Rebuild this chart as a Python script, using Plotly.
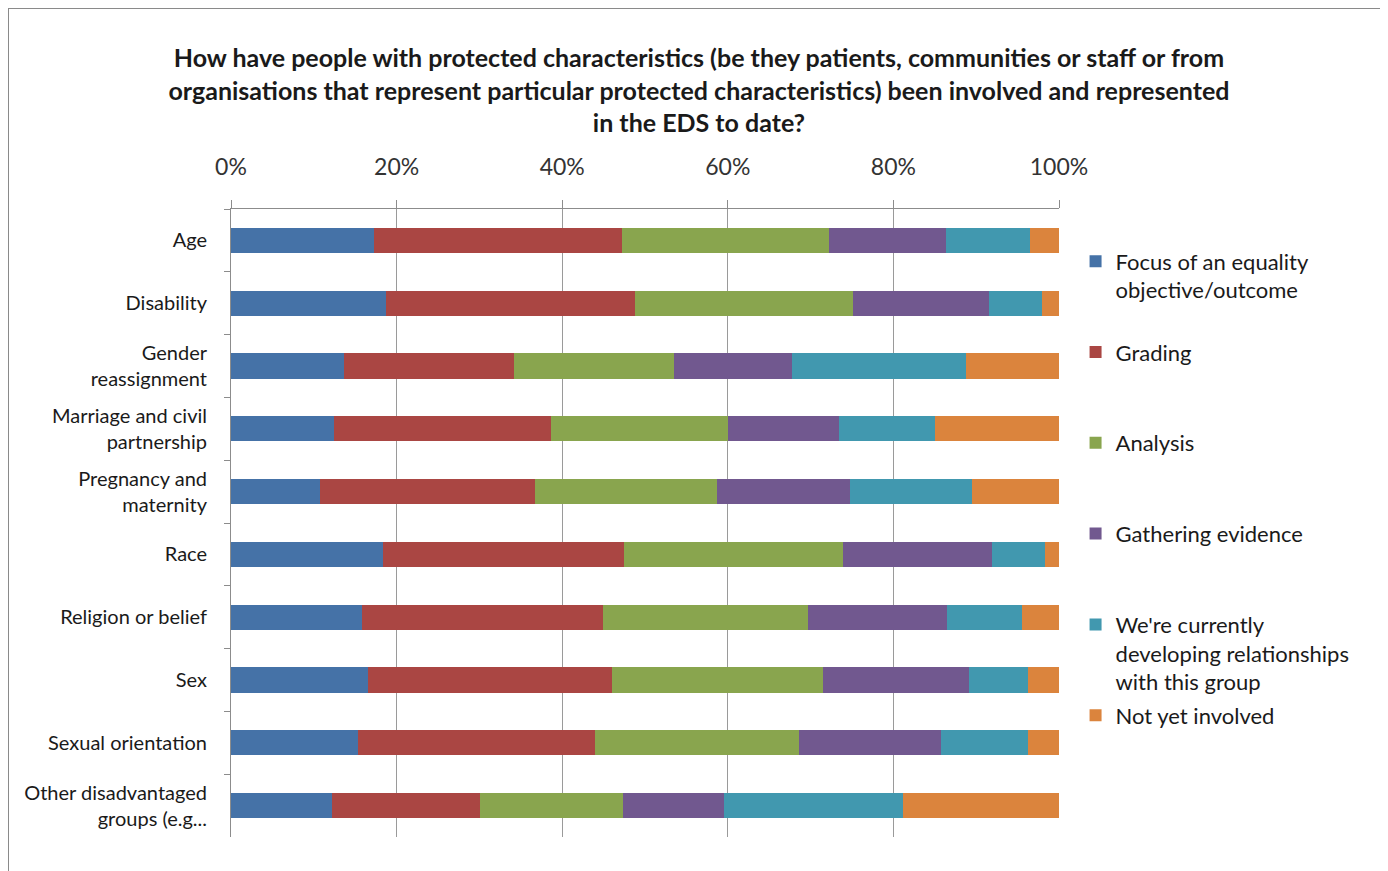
import plotly.graph_objects as go

categories = [
    "Age",
    "Disability",
    "Gender<br>reassignment",
    "Marriage and civil<br>partnership",
    "Pregnancy and<br>maternity",
    "Race",
    "Religion or belief",
    "Sex",
    "Sexual orientation",
    "Other disadvantaged<br>groups (e.g...",
]

# share of responses per row (%)
focus = [17.3, 18.7, 13.7, 12.4, 10.7, 18.4, 15.8, 16.5, 15.3, 12.2]
grading = [29.9, 30.1, 20.5, 26.3, 26.0, 29.1, 29.1, 29.5, 28.7, 17.9]
analysis = [25.0, 26.3, 19.3, 21.3, 22.0, 26.4, 24.8, 25.5, 24.6, 17.3]
gathering = [14.2, 16.5, 14.2, 13.4, 16.1, 18.0, 16.8, 17.6, 17.2, 12.2]
developing = [10.1, 6.3, 21.1, 11.6, 14.7, 6.4, 9.0, 7.2, 10.5, 21.6]
not_yet = [3.5, 2.1, 11.2, 15.0, 10.5, 1.7, 4.5, 3.7, 3.7, 18.8]

tick_vals = [0, 20, 40, 60, 80, 100]
tick_text = ["0%", "20%", "40%", "60%", "80%", "100%"]

series = [
    ("Focus of an equality<br>objective/outcome<br> ", focus, "#4572A7"),
    ("Grading<br> <br> ", grading, "#AA4643"),
    ("Analysis<br> <br> ", analysis, "#89A54E"),
    ("Gathering evidence<br> <br> ", gathering, "#71588F"),
    ("We're currently<br>developing relationships<br>with this group", developing, "#4198AF"),
    ("Not yet involved", not_yet, "#DB843D"),
]

FONT = "Lato"
W, H = 1380, 863
L, R, T, B = 223, 329, 201, 34
PW, PH = W - L - R, H - T - B

fig = go.Figure()
for i, (name, vals, color) in enumerate(series):
    fig.add_trace(
        go.Bar(
            y=categories,
            x=vals,
            orientation="h",
            name=name,
            legendgroup=f"g{i}",
            marker={"color": color, "line": {"width": 0}},
        )
    )

fig.update_layout(
    barmode="stack",
    barnorm="percent",
    bargap=0.6,
    width=W,
    height=H,
    paper_bgcolor="white",
    plot_bgcolor="white",
    margin={"l": L, "r": R, "t": T, "b": B},
    font={"family": FONT, "color": "#1a1a1a"},
    title={
        "text": "<b>How have people with protected characteristics (be they patients, communities or staff or from<br>"
        "organisations that represent particular protected characteristics) been involved and represented<br>"
        "in the EDS to date?</b>",
        "x": 0.5007,
        "xanchor": "center",
        "y": 0.9316,
        "yanchor": "top",
        "font": {"size": 25, "family": FONT, "color": "#1a1a1a"},
    },
    legend={
        "x": 1.02,
        "xanchor": "left",
        "y": 0.95,
        "yanchor": "top",
        "valign": "top",
        "traceorder": "grouped",
        "tracegroupgap": 2,
        "font": {"size": 22, "family": FONT, "color": "#1a1a1a"},
    },
    showlegend=True,
)

fig.update_xaxes(
    side="top",
    range=[0, 100],
    tickvals=tick_vals,
    ticktext=tick_text,
    ticks="outside",
    ticklen=8,
    tickcolor="#8c8c8c",
    ticklabelstandoff=16,
    showgrid=True,
    gridcolor="#9a9a9a",
    gridwidth=1,
    showline=True,
    linecolor="#8c8c8c",
    zeroline=False,
    tickfont={"size": 23, "color": "#333333"},
)
fig.update_yaxes(
    autorange="reversed",
    ticks="outside",
    tickson="boundaries",
    ticklen=6,
    tickcolor="#8c8c8c",
    ticklabelstandoff=19,
    showline=True,
    linecolor="#8c8c8c",
    showgrid=False,
    tickfont={"size": 20, "color": "#1a1a1a"},
)

# outer chart frame (bottom edge runs off the page)
fig.add_shape(
    type="rect",
    xref="paper",
    yref="paper",
    x0=(0 - L) / PW,
    x1=(1373 - L) / PW,
    y0=(PH + T - 880) / PH,
    y1=(PH + T - 0) / PH,
    line={"color": "#8a8a8a", "width": 2},
    fillcolor="rgba(0,0,0,0)",
)

fig.write_html("out.html")
